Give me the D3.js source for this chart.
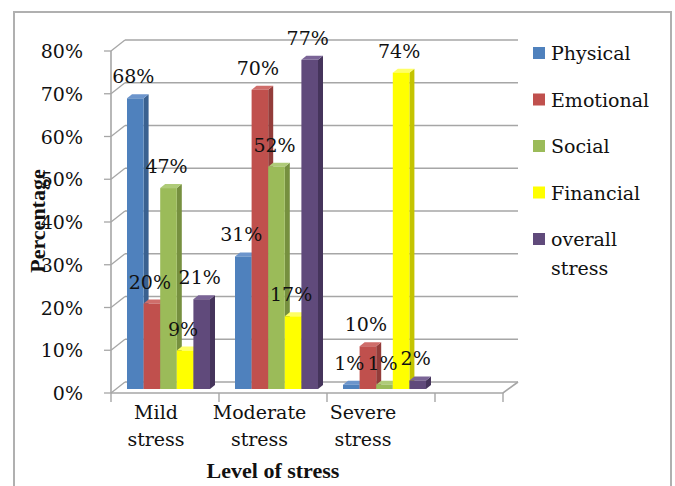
<!DOCTYPE html>
<html><head><meta charset="utf-8">
<script src="https://cdn.jsdelivr.net/npm/d3@7"></script>
<style>
html,body{margin:0;padding:0;background:#fff;}
</style></head>
<body>
<svg id="chart" width="675" height="486"></svg>
<script>
const categories = ["Mild|stress", "Moderate|stress", "Severe|stress"];
const seriesNames = ["Physical", "Emotional", "Social", "Financial", "overall stress"];
const physical  = [0.68, 0.31, 0.01];
const emotional = [0.20, 0.70, 0.10];
const social    = [0.47, 0.52, 0.01];
const financial = [0.09, 0.17, 0.74];
const overall   = [0.21, 0.77, 0.02];
const tickValues = [0, 0.1, 0.2, 0.3, 0.4, 0.5, 0.6, 0.7, 0.8];
const colors = ["#4F81BD", "#C0504D", "#9BBB59", "#FFFF00", "#604A7B"];
const sideColors = ["#3A6190", "#933C3A", "#76903F", "#C4C400", "#45345B"];
const topColors = ["#6C95CC", "#CF6D6A", "#AFCB78", "#FFFF66", "#7A6496"];
const seriesValues = [physical, emotional, social, financial, overall];

const FONT = "DejaVu Serif";
const BOLDFONT = "Liberation Serif";
const FS = 19;
const svg = d3.select("#chart");
const grid = "#a6a6a6";

function txt(sel) {
  return sel.append("text").style("font-family", FONT).attr("fill", "#111").attr("font-size", FS);
}

// outer frame
svg.append("rect").attr("x", 14).attr("y", 12).attr("width", 657).attr("height", 490)
  .attr("fill", "none").attr("stroke", "#b0b0b0").attr("stroke-width", 2);

// geometry
const frontBase = 393, backBase = 382, barBase = 389;
const frontX = 111, backX = 125, floorRight = 503, backRight = 518;
const h = d3.scaleLinear().domain([0, 0.8]).range([0, 342]);
const x = d3.scaleBand().domain(categories).range([111, 435]).paddingInner(0).paddingOuter(0);
const xs = d3.scaleBand().domain(seriesNames).range([16, 99]);
const labelX = d3.scalePoint().domain(categories).range([156, 363]);
const dx = 5, dy = 4;

// back wall gridlines + side wall diagonals
tickValues.forEach(t => {
  svg.append("line").attr("x1", backX).attr("x2", backRight)
    .attr("y1", backBase - h(t)).attr("y2", backBase - h(t))
    .attr("stroke", grid).attr("stroke-width", 1.6);
  svg.append("line").attr("x1", frontX).attr("x2", backX)
    .attr("y1", frontBase - h(t)).attr("y2", backBase - h(t))
    .attr("stroke", grid).attr("stroke-width", 1.3);
  svg.append("line").attr("x1", frontX - 7).attr("x2", frontX)
    .attr("y1", frontBase - h(t)).attr("y2", frontBase - h(t))
    .attr("stroke", grid).attr("stroke-width", 1.3);
  txt(svg).attr("x", 83).attr("y", frontBase - h(t) + 7)
    .attr("text-anchor", "end")
    .text(d3.format(".0%")(t));
});
// front value axis
svg.append("line").attr("x1", frontX).attr("x2", frontX)
  .attr("y1", frontBase - h(0.8)).attr("y2", frontBase)
  .attr("stroke", grid).attr("stroke-width", 1.6);
// floor
svg.append("path")
  .attr("d", `M${frontX},${frontBase}L${floorRight},${frontBase}L${backRight},${backBase}`)
  .attr("fill", "none").attr("stroke", grid).attr("stroke-width", 1.6);
// category ticks
const tickXs = categories.map(c => x(c)).concat([x.range()[1], floorRight]);
tickXs.forEach(tx => {
  svg.append("line").attr("x1", tx).attr("x2", tx)
    .attr("y1", frontBase).attr("y2", frontBase + 9)
    .attr("stroke", grid).attr("stroke-width", 1.4);
});

// bars
categories.forEach((c, i) => {
  seriesNames.forEach((s, j) => {
    const v = seriesValues[j][i];
    const x0 = x(c) + xs(s), w = xs.bandwidth();
    const top = barBase - h(v);
    const g = svg.append("g");
    g.append("path").attr("d", `M${x0 + w},${barBase}L${x0 + w + dx},${barBase - dy}L${x0 + w + dx},${top - dy}L${x0 + w},${top}Z`)
      .attr("fill", sideColors[j]);
    g.append("path").attr("d", `M${x0},${top}L${x0 + w},${top}L${x0 + w + dx},${top - dy}L${x0 + dx},${top - dy}Z`)
      .attr("fill", topColors[j]);
    g.append("rect").attr("x", x0).attr("y", top).attr("width", w).attr("height", h(v))
      .attr("fill", colors[j]);
  });
});

// data labels
categories.forEach((c, i) => {
  seriesNames.forEach((s, j) => {
    const v = seriesValues[j][i];
    const cx = x(c) + xs(s) + xs.bandwidth() / 2 - 2;
    txt(svg).attr("x", cx).attr("y", barBase - h(v) - 15)
      .attr("text-anchor", "middle")
      .text(d3.format(".0%")(v));
  });
});

// category labels
categories.forEach(c => {
  const parts = c.split("|");
  parts.forEach((p, k) => {
    txt(svg).attr("x", labelX(c)).attr("y", 419 + k * 27)
      .attr("text-anchor", "middle").text(p);
  });
});

// axis titles
svg.append("text").style("font-family", BOLDFONT).attr("fill", "#111")
  .attr("x", 273).attr("y", 478).attr("text-anchor", "middle")
  .attr("font-size", 22).attr("font-weight", "bold")
  .text("Level of stress");
svg.append("text").style("font-family", BOLDFONT).attr("fill", "#111")
  .attr("transform", "translate(45,221) rotate(-90)")
  .attr("text-anchor", "middle").attr("font-size", 22).attr("font-weight", "bold")
  .text("Percentage");

// legend
const legendY = d3.scalePoint().domain(seriesNames).range([53, 239]);
seriesNames.forEach((s, j) => {
  const y = legendY(s);
  svg.append("rect").attr("x", 533).attr("y", y - 6).attr("width", 12).attr("height", 12)
    .attr("fill", colors[j]);
  const words = s === "overall stress" ? ["overall", "stress"] : [s];
  words.forEach((wd, k) => {
    txt(svg).attr("x", 551).attr("y", y + 7 + k * 29).text(wd);
  });
});
</script>
</body></html>
